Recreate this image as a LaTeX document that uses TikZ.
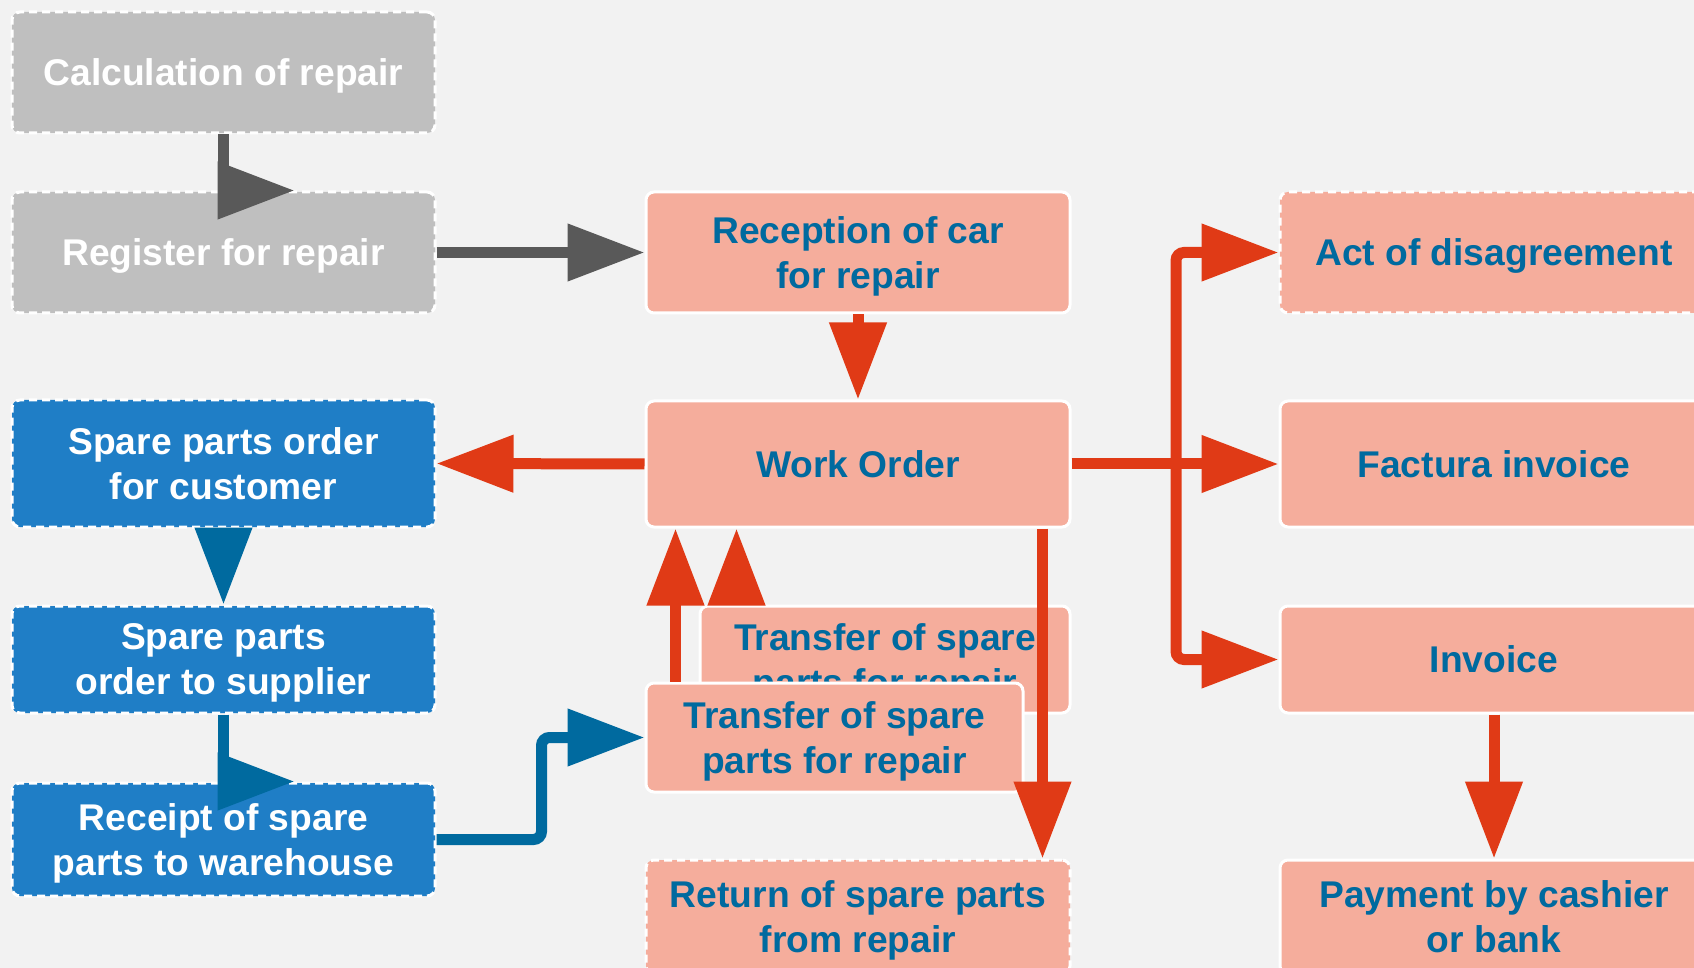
\documentclass[tikz,border=0pt]{standalone}
\usepackage{fontspec}
\setmainfont{Liberation Sans}
\usepackage{xcolor}
\usetikzlibrary{arrows.meta,calc}

\definecolor{bgGray}{HTML}{F2F2F2}
\definecolor{boxGray}{HTML}{BFBFBF}
\definecolor{arrGray}{HTML}{595959}
\definecolor{boxBlue}{HTML}{1F7EC6}
\definecolor{arrBlue}{HTML}{006A9F}
\definecolor{boxSalmon}{HTML}{F5AD9C}
\definecolor{arrRed}{HTML}{E03A16}
\definecolor{txtBlue}{HTML}{006A9F}

\begin{document}
\begin{tikzpicture}[x=0.5pt,y=0.5pt,yscale=-1,xscale=1,
  box/.style={rounded corners=4pt, draw=white, line width=1.5pt, align=center, inner sep=0pt,
    text depth=0pt, font=\fontsize{18.6}{22.5}\selectfont\bfseries},
  dashbox/.style={box, dash pattern=on 4pt off 2.5pt},
  graybox/.style={dashbox, fill=boxGray, text=white},
  bluebox/.style={dashbox, fill=boxBlue, text=white},
  pinkbox/.style={box, fill=boxSalmon, text=txtBlue},
  pinkdash/.style={pinkbox, dash pattern=on 4pt off 2.5pt},
  link/.style={line width=5.5pt, -{Triangle[length=38.5pt,width=27.5pt]}},
  grayarrow/.style={link, draw=arrGray},
  bluearrow/.style={link, draw=arrBlue},
  redarrow/.style={link, draw=arrRed}]

%Background
\useasboundingbox (0,0) rectangle (1694,968);
\fill[bgGray] (0,0) rectangle (1694,968);
\clip (0,0) rectangle (1694,968);

%Shape: Left column
\node[graybox, minimum width=211.5pt, minimum height=60.5pt] (calc) at (223.5,72.5) {Calculation of repair};
\node[graybox, minimum width=211.5pt, minimum height=60.5pt] (reg) at (223.5,252.5) {Register for repair};
\node[bluebox, minimum width=211.5pt, minimum height=63.5pt] (spcust) at (223.5,463.5) {Spare parts order\\for customer};
\node[bluebox, minimum width=211.5pt, minimum height=53.5pt] (spsupp) at (223.5,659.5) {Spare parts\\order to supplier};
\node[bluebox, minimum width=211.5pt, minimum height=56.5pt] (receipt) at (223.5,839.5) {Receipt of spare\\parts to warehouse};

%Shape: Middle column
\node[pinkbox, minimum width=212pt, minimum height=60.5pt] (recep) at (858,252.5) {Reception of car\\for repair};
\node[pinkbox, minimum width=212pt, minimum height=63pt] (work) at (858,464) {Work Order};
\node[pinkbox, minimum width=185pt, minimum height=53.5pt] (transB) at (885,659.5) {Transfer of spare\\parts for repair};
\node[pinkbox, minimum width=188.5pt, minimum height=54.5pt] (transF) at (834.5,737.5) {Transfer of spare\\parts for repair};
\node[pinkdash, minimum width=212pt, minimum height=57pt] (ret) at (858,917) {Return of spare parts\\from repair};

%Shape: Right column
\node[pinkdash, minimum width=214pt, minimum height=60.5pt] (act) at (1494,252.5) {Act of disagreement};
\node[pinkbox, minimum width=214pt, minimum height=63pt] (fact) at (1494,464) {Factura invoice};
\node[pinkbox, minimum width=214pt, minimum height=53.5pt] (inv) at (1494,659.5) {Invoice};
\node[pinkbox, minimum width=214pt, minimum height=57pt] (pay) at (1494,917) {Payment by cashier\\or bank};

%Connectors
\coordinate (tfup) at ($(transF.north west)+(31,0)$);
\coordinate (tbup) at ($(transB.north west)+(38,0)$);
\coordinate (wdown) at ($(work.south east)+(-29,0)$);
\coordinate (fork) at (1176,464);

\draw[grayarrow] (calc.south) |- ($(reg.north)+(71,0)$);
\draw[grayarrow] (reg.east) -- (recep.west);
\draw[redarrow] (recep.south) -- (work.north);
\draw[redarrow] (work.west) -- (spcust.east);
\draw[bluearrow] (spcust.south) -- (spsupp.north);
\draw[bluearrow] (spsupp.south) |- ($(receipt.north)+(71,0)$);
\draw[bluearrow, rounded corners=4pt] (receipt.east) -- ++(105,0) |- (transF.west);
\draw[redarrow] (tfup) -- (tfup |- work.south);
\draw[redarrow] (tbup) -- (tbup |- work.south);
\draw[redarrow] (wdown) -- (wdown |- ret.north);
\draw[redarrow] (work.east) -- (fact.west);
\draw[redarrow, rounded corners=4pt] (fork) |- (act.west);
\draw[redarrow, rounded corners=4pt] (fork) |- (inv.west);
\draw[redarrow] (inv.south) -- (pay.north);

\end{tikzpicture}
\end{document}
